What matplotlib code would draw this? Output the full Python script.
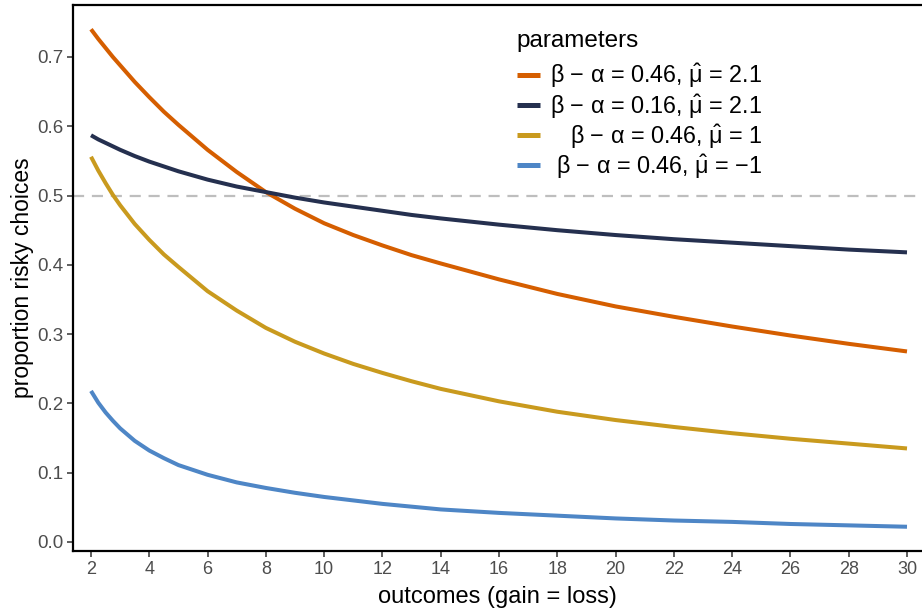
import matplotlib
matplotlib.use("Agg")
import matplotlib.pyplot as plt

# ---- data ----
outcomes = [2, 2.25, 2.5, 2.75, 3, 3.5, 4, 4.5, 5, 6, 7, 8, 9, 10, 11, 12, 13, 14,
            16, 18, 20, 22, 24, 26, 28, 30]
p_orange = [0.740, 0.726, 0.713, 0.700, 0.688, 0.664, 0.642, 0.621, 0.602, 0.566,
            0.534, 0.505, 0.481, 0.460, 0.443, 0.428, 0.414, 0.402,
            0.379, 0.358, 0.340, 0.325, 0.311, 0.298, 0.286, 0.275]
p_navy = [0.587, 0.581, 0.576, 0.571, 0.566, 0.557, 0.549, 0.542, 0.535, 0.523,
          0.513, 0.505, 0.497, 0.490, 0.484, 0.478, 0.472, 0.467,
          0.458, 0.450, 0.443, 0.437, 0.432, 0.427, 0.422, 0.418]
p_gold = [0.556, 0.536, 0.518, 0.501, 0.486, 0.459, 0.436, 0.415, 0.397, 0.362,
          0.334, 0.309, 0.289, 0.272, 0.257, 0.244, 0.232, 0.221,
          0.203, 0.188, 0.176, 0.166, 0.157, 0.149, 0.142, 0.135]
p_blue = [0.218, 0.201, 0.187, 0.175, 0.164, 0.146, 0.132, 0.121, 0.111, 0.097,
          0.086, 0.078, 0.071, 0.065, 0.060, 0.055, 0.051, 0.047,
          0.042, 0.038, 0.034, 0.031, 0.029, 0.026, 0.024, 0.022]

labels = ["β − α = 0.46, $\\hat{\\mathrm{\\mu}}$ = 2.1",
          "β − α = 0.16, $\\hat{\\mathrm{\\mu}}$ = 2.1",
          "β − α = 0.46, $\\hat{\\mathrm{\\mu}}$ = 1",
          "β − α = 0.46, $\\hat{\\mathrm{\\mu}}$ = −1"]
colors = ["#D55E00", "#25304F", "#C99A1E", "#4E86C6"]
series = [p_orange, p_navy, p_gold, p_blue]

x_ticks = list(range(2, 31, 2))
y_ticks = [0.0, 0.1, 0.2, 0.3, 0.4, 0.5, 0.6, 0.7]

plt.rcParams['font.family'] = ['Liberation Sans', 'DejaVu Sans']
plt.rcParams['mathtext.fontset'] = 'custom'
plt.rcParams['mathtext.rm'] = 'Liberation Sans'
plt.rcParams['mathtext.it'] = 'Liberation Sans:italic'

fig = plt.figure(figsize=(9.22, 6.12), dpi=100)
ax = fig.add_axes([73 / 922, 1 - 551 / 612, 1 - 73 / 922, (551 - 5) / 612])

ax.axhline(0.5, color="#BEBEBE", lw=1.6, ls=(0, (5, 3.5)), zorder=1)
for ys, c, lab in zip(series, colors, labels):
    ax.plot(outcomes, ys, color=c, lw=2.9, label=lab, solid_capstyle='butt',
            solid_joinstyle='round', zorder=2)

ax.set_xlim(1.382, 30.515)
ax.set_ylim(-0.013, 0.775)
ax.set_xticks(x_ticks)
ax.set_yticks(y_ticks)
ax.set_yticklabels([f"{v:.1f}" for v in y_ticks])

for s in ['left', 'bottom', 'top']:
    ax.spines[s].set_linewidth(1.6)
    ax.spines[s].set_color('black')
ax.spines['right'].set_visible(False)

ax.tick_params(axis='both', length=4, width=1.1, color='#333333', labelcolor='#4D4D4D',
               labelsize=13.5, pad=3)
for t in ax.get_xticklabels():
    t.set_family(['Liberation Sans Narrow', 'Liberation Sans', 'DejaVu Sans'])
    t.set_fontsize(13)

ax.set_xlabel("outcomes (gain = loss)", fontsize=17,
              family=['Liberation Sans Narrow', 'Liberation Sans', 'DejaVu Sans'], labelpad=6)
ax.set_ylabel("proportion risky choices", fontsize=16.5, labelpad=2)

leg = ax.legend(loc='upper left', bbox_to_anchor=(505 / 922, 1 - 18 / 612),
                bbox_transform=fig.transFigure, frameon=False, fontsize=16.8,
                title="parameters", title_fontsize=17.5, alignment='left',
                borderpad=0, handlelength=1.0, handletextpad=0.45, labelspacing=0.07)
leg._legend_box.sep = 7.5
for h in leg.get_lines():
    h.set_linewidth(3.6)

fig.canvas.draw()
texts = leg.get_texts()
widths = [t.get_window_extent().width for t in texts]
mw = max(widths)
for t, w in zip(texts, widths):
    t.set_ha('right')
    t.set_position((mw - w, 0))

fig.savefig("out.png", dpi=100)
